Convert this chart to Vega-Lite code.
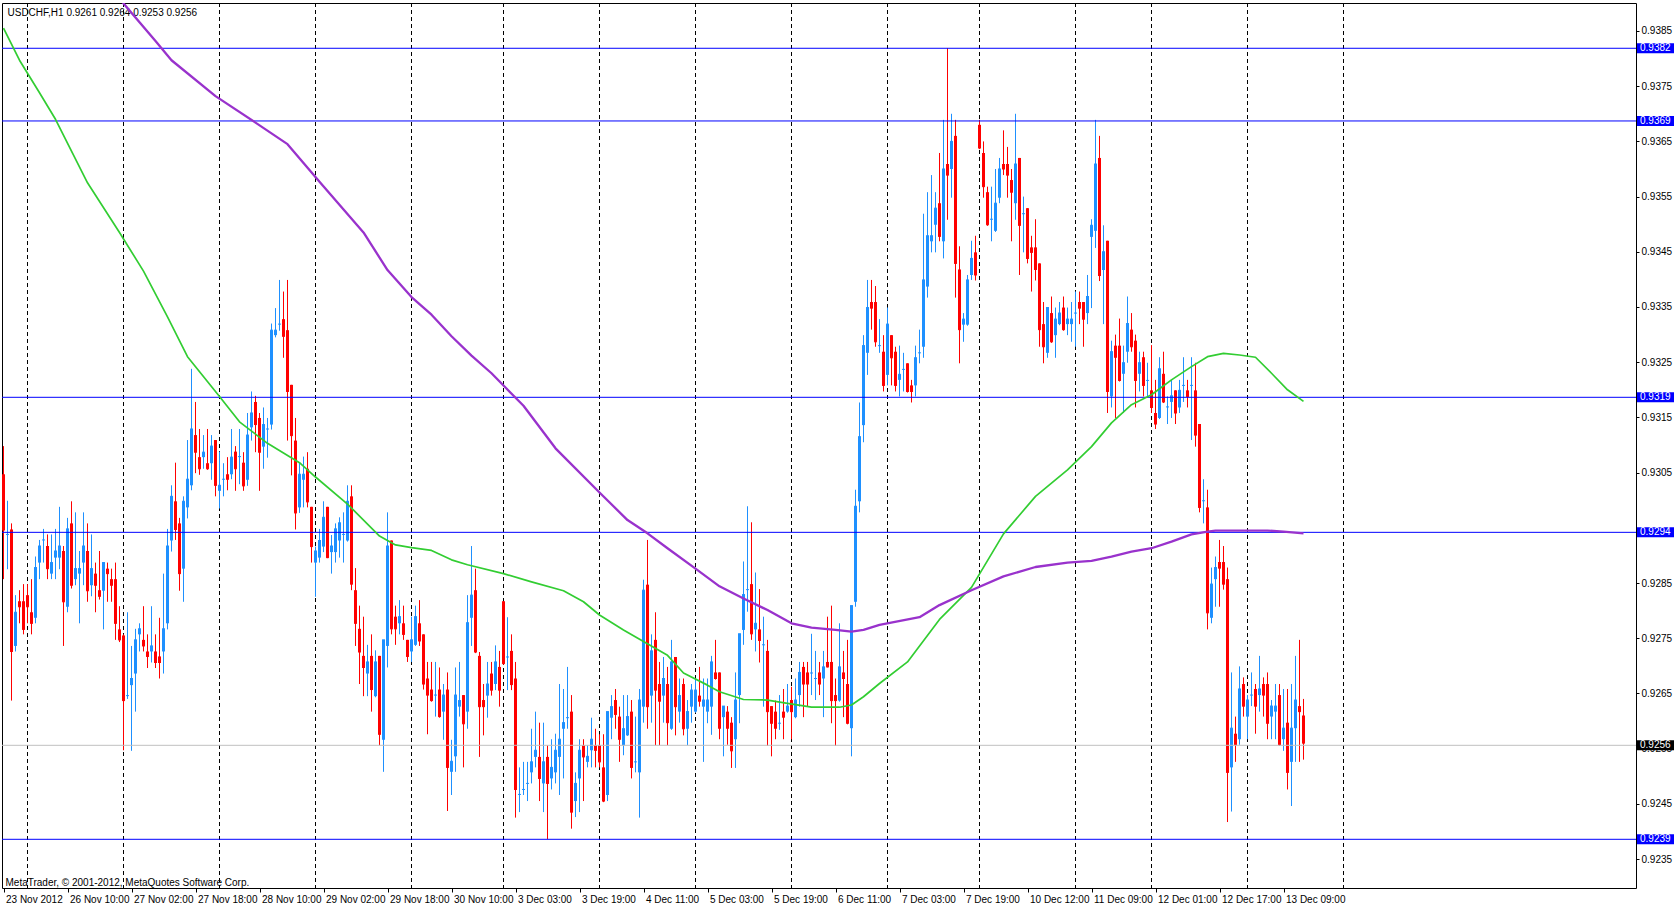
{
  "$schema": "https://vega.github.io/schema/vega-lite/v6.json",
  "width": 1634,
  "height": 885,
  "autosize": {"type": "none"},
  "padding": {"left": 2, "top": 3, "right": 38, "bottom": 18},
  "background": "#ffffff",
  "config": {
    "view": {"stroke": "#000000", "strokeWidth": 1},
    "font": "Liberation Sans",
    "axis": {"grid": false, "domain": false, "labelFont": "Liberation Sans", "labelFontSize": 10, "labelColor": "#000000", "tickColor": "#000000", "titleFont": "Liberation Sans", "titleColor": "#000000"}
  },
  "datasets": {
    "days": [{"i":6},{"i":30},{"i":54},{"i":78},{"i":102},{"i":125},{"i":149},{"i":173},{"i":197},{"i":221},{"i":244},{"i":268},{"i":287},{"i":311},{"i":335}],
    "levels": [{"p":0.938187,"k":"level"},{"p":0.93687,"k":"level"},{"p":0.931864,"k":"level"},{"p":0.929418,"k":"level"},{"p":0.923857,"k":"level"},{"p":0.92556,"k":"bid"}],
    "ma": [
      {"i":0,"m":"fast","p":0.93855},{"i":4,"m":"fast","p":0.93797},{"i":9,"m":"fast","p":0.93738},{"i":13,"m":"fast","p":0.9369},{"i":21,"m":"fast","p":0.93575},{"i":29,"m":"fast","p":0.93485},{"i":35,"m":"fast","p":0.93415},{"i":41,"m":"fast","p":0.93332},{"i":46,"m":"fast","p":0.9326},{"i":54,"m":"fast","p":0.93188},{"i":59,"m":"fast","p":0.93142},{"i":66,"m":"fast","p":0.93103},{"i":74,"m":"fast","p":0.93068},{"i":78,"m":"fast","p":0.93042},{"i":86,"m":"fast","p":0.92993},{"i":94,"m":"fast","p":0.92935},{"i":98,"m":"fast","p":0.92919},{"i":102,"m":"fast","p":0.92914},{"i":107,"m":"fast","p":0.92909},{"i":112,"m":"fast","p":0.92892},{"i":116,"m":"fast","p":0.92883},{"i":125,"m":"fast","p":0.92867},{"i":132,"m":"fast","p":0.92852},{"i":140,"m":"fast","p":0.92836},{"i":145,"m":"fast","p":0.92816},{"i":149,"m":"fast","p":0.92792},{"i":155,"m":"fast","p":0.92765},{"i":160,"m":"fast","p":0.92744},{"i":166,"m":"fast","p":0.92719},{"i":170,"m":"fast","p":0.92687},{"i":176,"m":"fast","p":0.92665},{"i":179,"m":"fast","p":0.92653},{"i":185,"m":"fast","p":0.92639},{"i":191,"m":"fast","p":0.92638},{"i":196,"m":"fast","p":0.92632},{"i":202,"m":"fast","p":0.92625},{"i":209,"m":"fast","p":0.92625},{"i":212,"m":"fast","p":0.92629},{"i":215,"m":"fast","p":0.92644},{"i":219,"m":"fast","p":0.92668},{"i":226,"m":"fast","p":0.92707},{"i":234,"m":"fast","p":0.92784},{"i":242,"m":"fast","p":0.92842},{"i":250,"m":"fast","p":0.92939},{"i":258,"m":"fast","p":0.93007},{"i":266,"m":"fast","p":0.93055},{"i":272,"m":"fast","p":0.93097},{"i":277,"m":"fast","p":0.9314},{"i":282,"m":"fast","p":0.93173},{"i":287,"m":"fast","p":0.93191},{"i":292,"m":"fast","p":0.93218},{"i":297,"m":"fast","p":0.93242},{"i":301,"m":"fast","p":0.9326},{"i":305,"m":"fast","p":0.93266},{"i":309,"m":"fast","p":0.93263},{"i":313,"m":"fast","p":0.93259},{"i":317,"m":"fast","p":0.9323},{"i":321,"m":"fast","p":0.932},{"i":325,"m":"fast","p":0.93179},
      {"i":27,"m":"slow","p":0.93927},{"i":30,"m":"slow","p":0.939},{"i":38,"m":"slow","p":0.93832},{"i":42,"m":"slow","p":0.93797},{"i":53,"m":"slow","p":0.93732},{"i":63,"m":"slow","p":0.93684},{"i":71,"m":"slow","p":0.93645},{"i":79,"m":"slow","p":0.93577},{"i":90,"m":"slow","p":0.93485},{"i":96,"m":"slow","p":0.93417},{"i":102,"m":"slow","p":0.93368},{"i":107,"m":"slow","p":0.93336},{"i":112,"m":"slow","p":0.93297},{"i":117,"m":"slow","p":0.93262},{"i":122,"m":"slow","p":0.9323},{"i":130,"m":"slow","p":0.93171},{"i":138,"m":"slow","p":0.93094},{"i":149,"m":"slow","p":0.93014},{"i":156,"m":"slow","p":0.92964},{"i":161,"m":"slow","p":0.9294},{"i":166,"m":"slow","p":0.92913},{"i":173,"m":"slow","p":0.92876},{"i":179,"m":"slow","p":0.92844},{"i":185,"m":"slow","p":0.92822},{"i":191,"m":"slow","p":0.92801},{"i":197,"m":"slow","p":0.92777},{"i":202,"m":"slow","p":0.92769},{"i":208,"m":"slow","p":0.92765},{"i":212,"m":"slow","p":0.92762},{"i":215,"m":"slow","p":0.92765},{"i":219,"m":"slow","p":0.92774},{"i":229,"m":"slow","p":0.92788},{"i":234,"m":"slow","p":0.9281},{"i":242,"m":"slow","p":0.92837},{"i":250,"m":"slow","p":0.92862},{"i":258,"m":"slow","p":0.92879},{"i":266,"m":"slow","p":0.92887},{"i":272,"m":"slow","p":0.9289},{"i":277,"m":"slow","p":0.92898},{"i":282,"m":"slow","p":0.92907},{"i":287,"m":"slow","p":0.92913},{"i":292,"m":"slow","p":0.92925},{"i":297,"m":"slow","p":0.92938},{"i":301,"m":"slow","p":0.92943},{"i":303,"m":"slow","p":0.92945},{"i":311,"m":"slow","p":0.92945},{"i":316,"m":"slow","p":0.92945},{"i":320,"m":"slow","p":0.92943},{"i":325,"m":"slow","p":0.9294}
    ],
    "bars": [
      {"i":0,"o":0.93047,"h":0.93098,"l":0.92857,"c":0.92946},
      {"i":1,"o":0.92938,"h":0.92999,"l":0.92875,"c":0.92938},
      {"i":2,"o":0.92947,"h":0.92958,"l":0.92637,"c":0.92726},
      {"i":3,"o":0.92736,"h":0.92828,"l":0.92726,"c":0.92797},
      {"i":4,"o":0.92817,"h":0.92837,"l":0.92777,"c":0.92807},
      {"i":5,"o":0.92817,"h":0.92848,"l":0.92757,"c":0.92766},
      {"i":6,"o":0.92828,"h":0.92848,"l":0.92777,"c":0.92807},
      {"i":7,"o":0.92797,"h":0.92857,"l":0.92757,"c":0.92777},
      {"i":8,"o":0.92787,"h":0.92898,"l":0.92777,"c":0.92878},
      {"i":9,"o":0.92887,"h":0.92928,"l":0.92857,"c":0.92917},
      {"i":10,"o":0.92928,"h":0.92948,"l":0.92887,"c":0.92928},
      {"i":11,"o":0.92917,"h":0.92938,"l":0.92857,"c":0.92876},
      {"i":12,"o":0.92867,"h":0.92938,"l":0.92857,"c":0.92887},
      {"i":13,"o":0.92896,"h":0.92948,"l":0.92857,"c":0.92908},
      {"i":14,"o":0.92896,"h":0.92988,"l":0.92875,"c":0.92917},
      {"i":15,"o":0.92908,"h":0.92917,"l":0.92736,"c":0.92816},
      {"i":16,"o":0.92807,"h":0.92968,"l":0.92797,"c":0.92948},
      {"i":17,"o":0.92958,"h":0.92998,"l":0.9284,"c":0.92846},
      {"i":18,"o":0.92857,"h":0.92978,"l":0.92846,"c":0.92876},
      {"i":19,"o":0.92867,"h":0.92908,"l":0.92777,"c":0.92876},
      {"i":20,"o":0.92887,"h":0.92978,"l":0.92846,"c":0.92917},
      {"i":21,"o":0.92908,"h":0.92958,"l":0.92816,"c":0.92836},
      {"i":22,"o":0.92846,"h":0.92938,"l":0.92826,"c":0.92876},
      {"i":23,"o":0.92867,"h":0.92887,"l":0.92797,"c":0.92846},
      {"i":24,"o":0.92837,"h":0.92908,"l":0.9282,"c":0.92826},
      {"i":25,"o":0.92836,"h":0.92887,"l":0.92766,"c":0.92887},
      {"i":26,"o":0.92876,"h":0.92887,"l":0.92816,"c":0.92867},
      {"i":27,"o":0.92857,"h":0.92876,"l":0.92816,"c":0.92846},
      {"i":28,"o":0.92857,"h":0.92887,"l":0.92747,"c":0.92777},
      {"i":29,"o":0.92766,"h":0.92808,"l":0.92743,"c":0.92747},
      {"i":30,"o":0.92755,"h":0.92757,"l":0.92547,"c":0.92637},
      {"i":31,"o":0.92646,"h":0.92797,"l":0.9264,"c":0.92646},
      {"i":32,"o":0.92665,"h":0.92736,"l":0.92546,"c":0.92677},
      {"i":33,"o":0.92686,"h":0.92767,"l":0.92617,"c":0.92747},
      {"i":34,"o":0.92757,"h":0.92777,"l":0.92726,"c":0.92767},
      {"i":35,"o":0.92747,"h":0.92808,"l":0.92726,"c":0.92736},
      {"i":36,"o":0.92726,"h":0.92757,"l":0.92696,"c":0.92717},
      {"i":37,"o":0.92726,"h":0.92808,"l":0.92706,"c":0.92736},
      {"i":38,"o":0.92726,"h":0.92757,"l":0.92696,"c":0.92706},
      {"i":39,"o":0.92717,"h":0.92787,"l":0.92677,"c":0.92706},
      {"i":40,"o":0.92726,"h":0.92867,"l":0.92686,"c":0.92767},
      {"i":41,"o":0.92777,"h":0.92948,"l":0.92766,"c":0.92917},
      {"i":42,"o":0.92927,"h":0.93027,"l":0.92907,"c":0.93007},
      {"i":43,"o":0.92998,"h":0.93068,"l":0.92928,"c":0.92947},
      {"i":44,"o":0.92958,"h":0.92968,"l":0.92836,"c":0.92867},
      {"i":45,"o":0.92876,"h":0.93007,"l":0.92816,"c":0.92998},
      {"i":46,"o":0.92987,"h":0.93109,"l":0.92967,"c":0.93038},
      {"i":47,"o":0.93027,"h":0.93238,"l":0.93018,"c":0.93129},
      {"i":48,"o":0.93118,"h":0.93178,"l":0.93049,"c":0.93087},
      {"i":49,"o":0.93078,"h":0.93129,"l":0.93046,"c":0.93057},
      {"i":50,"o":0.93078,"h":0.93118,"l":0.93057,"c":0.93087},
      {"i":51,"o":0.93067,"h":0.93129,"l":0.93055,"c":0.93057},
      {"i":52,"o":0.93067,"h":0.93118,"l":0.93037,"c":0.93098},
      {"i":53,"o":0.93109,"h":0.93109,"l":0.93007,"c":0.93027},
      {"i":54,"o":0.93017,"h":0.93088,"l":0.92985,"c":0.93027},
      {"i":55,"o":0.93038,"h":0.93067,"l":0.93007,"c":0.93038},
      {"i":56,"o":0.93047,"h":0.93078,"l":0.93018,"c":0.93038},
      {"i":57,"o":0.93047,"h":0.93129,"l":0.93038,"c":0.93078},
      {"i":58,"o":0.93088,"h":0.93098,"l":0.93017,"c":0.93057},
      {"i":59,"o":0.93079,"h":0.93129,"l":0.93029,"c":0.93079},
      {"i":60,"o":0.93068,"h":0.93087,"l":0.93017,"c":0.93026},
      {"i":61,"o":0.93037,"h":0.93158,"l":0.93026,"c":0.93118},
      {"i":62,"o":0.93132,"h":0.93197,"l":0.93108,"c":0.93158},
      {"i":63,"o":0.93178,"h":0.93189,"l":0.93087,"c":0.93137},
      {"i":64,"o":0.93149,"h":0.93158,"l":0.93017,"c":0.93087},
      {"i":65,"o":0.93097,"h":0.93168,"l":0.93057,"c":0.93137},
      {"i":66,"o":0.93129,"h":0.93149,"l":0.93077,"c":0.93129},
      {"i":67,"o":0.93137,"h":0.9332,"l":0.93128,"c":0.93308},
      {"i":68,"o":0.93299,"h":0.93348,"l":0.93295,"c":0.93308},
      {"i":69,"o":0.93319,"h":0.93399,"l":0.93307,"c":0.93319},
      {"i":70,"o":0.93328,"h":0.93378,"l":0.93258,"c":0.93297},
      {"i":71,"o":0.93308,"h":0.93399,"l":0.93108,"c":0.93197},
      {"i":72,"o":0.93209,"h":0.93209,"l":0.93045,"c":0.93117},
      {"i":73,"o":0.93108,"h":0.93149,"l":0.92947,"c":0.92977},
      {"i":74,"o":0.92987,"h":0.93068,"l":0.92977,"c":0.93047},
      {"i":75,"o":0.93037,"h":0.93079,"l":0.92987,"c":0.93047},
      {"i":76,"o":0.93057,"h":0.93087,"l":0.92987,"c":0.92997},
      {"i":77,"o":0.92988,"h":0.92988,"l":0.92887,"c":0.92916},
      {"i":78,"o":0.92887,"h":0.92916,"l":0.92825,"c":0.92908},
      {"i":79,"o":0.92896,"h":0.92948,"l":0.92887,"c":0.92927},
      {"i":80,"o":0.92916,"h":0.92998,"l":0.92906,"c":0.92969},
      {"i":81,"o":0.92988,"h":0.92988,"l":0.92895,"c":0.92896},
      {"i":82,"o":0.92906,"h":0.92937,"l":0.92867,"c":0.92917},
      {"i":83,"o":0.92906,"h":0.92958,"l":0.92887,"c":0.92948},
      {"i":84,"o":0.92927,"h":0.92969,"l":0.92896,"c":0.92959},
      {"i":85,"o":0.92938,"h":0.92978,"l":0.92887,"c":0.92938},
      {"i":86,"o":0.92927,"h":0.93027,"l":0.92925,"c":0.92998},
      {"i":87,"o":0.93007,"h":0.93027,"l":0.92837,"c":0.92848},
      {"i":88,"o":0.92837,"h":0.92877,"l":0.92736,"c":0.92777},
      {"i":89,"o":0.92767,"h":0.92809,"l":0.92667,"c":0.92725},
      {"i":90,"o":0.92718,"h":0.92789,"l":0.92645,"c":0.92697},
      {"i":91,"o":0.92686,"h":0.92738,"l":0.92645,"c":0.92707},
      {"i":92,"o":0.92718,"h":0.92757,"l":0.92617,"c":0.92657},
      {"i":93,"o":0.92645,"h":0.92728,"l":0.92643,"c":0.92707},
      {"i":94,"o":0.92718,"h":0.92718,"l":0.92556,"c":0.92576},
      {"i":95,"o":0.92566,"h":0.92747,"l":0.92508,"c":0.92747},
      {"i":96,"o":0.92736,"h":0.92978,"l":0.92697,"c":0.92917},
      {"i":97,"o":0.92927,"h":0.92927,"l":0.92757,"c":0.92767},
      {"i":98,"o":0.92789,"h":0.92809,"l":0.92738,"c":0.92767},
      {"i":99,"o":0.92777,"h":0.92819,"l":0.92757,"c":0.92789},
      {"i":100,"o":0.92777,"h":0.92809,"l":0.92747,"c":0.92757},
      {"i":101,"o":0.92747,"h":0.92747,"l":0.92707,"c":0.92717},
      {"i":102,"o":0.92726,"h":0.92789,"l":0.92707,"c":0.92747},
      {"i":103,"o":0.92738,"h":0.92809,"l":0.92736,"c":0.92789},
      {"i":104,"o":0.92777,"h":0.92819,"l":0.92736,"c":0.92745},
      {"i":105,"o":0.92757,"h":0.92757,"l":0.92657,"c":0.92667},
      {"i":106,"o":0.92677,"h":0.92707,"l":0.92576,"c":0.92647},
      {"i":107,"o":0.92657,"h":0.92707,"l":0.92635,"c":0.92637},
      {"i":108,"o":0.92647,"h":0.92707,"l":0.92608,"c":0.92647},
      {"i":109,"o":0.92657,"h":0.92697,"l":0.92606,"c":0.92608},
      {"i":110,"o":0.92617,"h":0.92667,"l":0.92566,"c":0.92647},
      {"i":111,"o":0.92657,"h":0.92688,"l":0.92437,"c":0.92516},
      {"i":112,"o":0.92508,"h":0.92566,"l":0.92466,"c":0.92527},
      {"i":113,"o":0.92536,"h":0.92697,"l":0.92508,"c":0.92647},
      {"i":114,"o":0.92626,"h":0.92707,"l":0.92608,"c":0.92637},
      {"i":115,"o":0.92647,"h":0.92647,"l":0.92516,"c":0.92595},
      {"i":116,"o":0.92617,"h":0.92828,"l":0.92586,"c":0.92778},
      {"i":117,"o":0.92787,"h":0.92917,"l":0.92736,"c":0.92828},
      {"i":118,"o":0.92837,"h":0.92876,"l":0.92723,"c":0.92725},
      {"i":119,"o":0.92718,"h":0.92725,"l":0.92535,"c":0.92626},
      {"i":120,"o":0.92638,"h":0.92667,"l":0.92574,"c":0.92626},
      {"i":121,"o":0.92646,"h":0.92707,"l":0.92606,"c":0.92667},
      {"i":122,"o":0.92686,"h":0.92707,"l":0.92646,"c":0.92656},
      {"i":123,"o":0.92667,"h":0.92737,"l":0.92656,"c":0.92707},
      {"i":124,"o":0.92698,"h":0.92727,"l":0.92626,"c":0.92656},
      {"i":125,"o":0.92817,"h":0.92817,"l":0.92702,"c":0.92704},
      {"i":126,"o":0.92716,"h":0.92788,"l":0.92656,"c":0.92716},
      {"i":127,"o":0.92727,"h":0.92757,"l":0.92656,"c":0.92666},
      {"i":128,"o":0.92677,"h":0.92707,"l":0.92425,"c":0.92476},
      {"i":129,"o":0.92467,"h":0.92516,"l":0.92435,"c":0.92467},
      {"i":130,"o":0.92476,"h":0.92526,"l":0.92466,"c":0.92476},
      {"i":131,"o":0.92487,"h":0.92526,"l":0.92455,"c":0.92487},
      {"i":132,"o":0.92507,"h":0.92586,"l":0.92487,"c":0.92526},
      {"i":133,"o":0.92535,"h":0.92617,"l":0.92516,"c":0.92547},
      {"i":134,"o":0.92535,"h":0.92597,"l":0.92455,"c":0.92496},
      {"i":135,"o":0.92487,"h":0.92597,"l":0.92435,"c":0.92526},
      {"i":136,"o":0.92535,"h":0.92556,"l":0.92386,"c":0.92487},
      {"i":137,"o":0.92496,"h":0.92567,"l":0.92476,"c":0.92516},
      {"i":138,"o":0.92507,"h":0.92577,"l":0.92487,"c":0.92547},
      {"i":139,"o":0.92535,"h":0.92667,"l":0.92466,"c":0.92567},
      {"i":140,"o":0.92586,"h":0.92658,"l":0.92496,"c":0.92597},
      {"i":141,"o":0.92606,"h":0.92698,"l":0.92586,"c":0.92606},
      {"i":142,"o":0.92617,"h":0.92647,"l":0.92405,"c":0.92435},
      {"i":143,"o":0.92455,"h":0.92507,"l":0.92426,"c":0.92487},
      {"i":144,"o":0.92496,"h":0.92567,"l":0.92435,"c":0.92547},
      {"i":145,"o":0.92556,"h":0.92567,"l":0.92455,"c":0.92535},
      {"i":146,"o":0.92526,"h":0.92556,"l":0.92516,"c":0.92536},
      {"i":147,"o":0.92547,"h":0.92606,"l":0.92516,"c":0.92567},
      {"i":148,"o":0.92556,"h":0.92586,"l":0.92516,"c":0.92547},
      {"i":149,"o":0.92556,"h":0.92576,"l":0.92516,"c":0.92526},
      {"i":150,"o":0.92516,"h":0.92576,"l":0.92453,"c":0.92455},
      {"i":151,"o":0.92466,"h":0.92617,"l":0.92455,"c":0.92617},
      {"i":152,"o":0.92606,"h":0.92647,"l":0.92567,"c":0.92626},
      {"i":153,"o":0.92638,"h":0.92658,"l":0.92586,"c":0.92612},
      {"i":154,"o":0.92608,"h":0.92626,"l":0.92526,"c":0.92567},
      {"i":155,"o":0.92556,"h":0.92647,"l":0.92538,"c":0.92586},
      {"i":156,"o":0.92574,"h":0.92647,"l":0.92573,"c":0.92608},
      {"i":157,"o":0.92617,"h":0.92638,"l":0.92496,"c":0.92516},
      {"i":158,"o":0.92526,"h":0.92608,"l":0.92507,"c":0.92526},
      {"i":159,"o":0.92507,"h":0.92658,"l":0.92425,"c":0.92638},
      {"i":160,"o":0.92626,"h":0.92856,"l":0.92597,"c":0.92837},
      {"i":161,"o":0.92847,"h":0.92928,"l":0.92586,"c":0.92626},
      {"i":162,"o":0.92646,"h":0.92757,"l":0.92597,"c":0.92727},
      {"i":163,"o":0.92747,"h":0.92797,"l":0.92556,"c":0.92656},
      {"i":164,"o":0.92667,"h":0.92707,"l":0.92556,"c":0.92636},
      {"i":165,"o":0.92646,"h":0.92716,"l":0.92597,"c":0.92677},
      {"i":166,"o":0.92667,"h":0.92698,"l":0.92556,"c":0.92597},
      {"i":167,"o":0.92586,"h":0.92747,"l":0.92584,"c":0.92707},
      {"i":168,"o":0.92716,"h":0.92716,"l":0.92574,"c":0.92626},
      {"i":169,"o":0.92617,"h":0.92677,"l":0.92597,"c":0.92646},
      {"i":170,"o":0.92667,"h":0.92677,"l":0.92574,"c":0.92586},
      {"i":171,"o":0.92586,"h":0.92638,"l":0.92556,"c":0.92617},
      {"i":172,"o":0.92626,"h":0.92667,"l":0.92597,"c":0.92656},
      {"i":173,"o":0.92617,"h":0.92677,"l":0.92615,"c":0.92656},
      {"i":174,"o":0.92646,"h":0.92698,"l":0.92626,"c":0.92636},
      {"i":175,"o":0.92626,"h":0.92677,"l":0.92526,"c":0.92638},
      {"i":176,"o":0.92617,"h":0.92677,"l":0.92596,"c":0.92638},
      {"i":177,"o":0.92626,"h":0.92718,"l":0.92575,"c":0.92707},
      {"i":178,"o":0.92688,"h":0.92747,"l":0.92675,"c":0.92677},
      {"i":179,"o":0.92688,"h":0.92688,"l":0.92567,"c":0.92587},
      {"i":180,"o":0.92607,"h":0.92627,"l":0.92536,"c":0.92627},
      {"i":181,"o":0.92617,"h":0.92627,"l":0.92557,"c":0.92587},
      {"i":182,"o":0.92597,"h":0.92607,"l":0.92515,"c":0.92546},
      {"i":183,"o":0.92567,"h":0.92688,"l":0.92515,"c":0.92638},
      {"i":184,"o":0.92647,"h":0.92758,"l":0.92596,"c":0.92758},
      {"i":185,"o":0.92765,"h":0.92889,"l":0.92738,"c":0.92829},
      {"i":186,"o":0.92838,"h":0.92989,"l":0.92798,"c":0.92838},
      {"i":187,"o":0.92848,"h":0.9296,"l":0.92747,"c":0.92758},
      {"i":188,"o":0.92766,"h":0.92869,"l":0.92726,"c":0.92777},
      {"i":189,"o":0.92766,"h":0.92839,"l":0.92706,"c":0.92746},
      {"i":190,"o":0.92738,"h":0.92789,"l":0.92626,"c":0.92738},
      {"i":191,"o":0.92727,"h":0.92747,"l":0.92555,"c":0.92617},
      {"i":192,"o":0.92627,"h":0.92627,"l":0.92536,"c":0.92596},
      {"i":193,"o":0.92617,"h":0.92637,"l":0.92567,"c":0.92587},
      {"i":194,"o":0.92596,"h":0.92647,"l":0.92584,"c":0.92596},
      {"i":195,"o":0.92617,"h":0.92658,"l":0.92567,"c":0.92607},
      {"i":196,"o":0.92617,"h":0.92667,"l":0.92615,"c":0.92627},
      {"i":197,"o":0.92638,"h":0.92662,"l":0.92567,"c":0.92617},
      {"i":198,"o":0.92607,"h":0.92677,"l":0.92605,"c":0.92638},
      {"i":199,"o":0.92647,"h":0.92707,"l":0.92626,"c":0.92688},
      {"i":200,"o":0.92698,"h":0.92707,"l":0.92607,"c":0.92667},
      {"i":201,"o":0.92688,"h":0.92707,"l":0.92626,"c":0.92667},
      {"i":202,"o":0.92687,"h":0.92758,"l":0.92647,"c":0.92687},
      {"i":203,"o":0.92677,"h":0.92727,"l":0.92638,"c":0.92677},
      {"i":204,"o":0.92688,"h":0.92707,"l":0.92647,"c":0.92667},
      {"i":205,"o":0.92677,"h":0.92727,"l":0.92607,"c":0.92698},
      {"i":206,"o":0.92707,"h":0.92789,"l":0.92697,"c":0.92698},
      {"i":207,"o":0.92707,"h":0.92809,"l":0.92596,"c":0.92637},
      {"i":208,"o":0.92647,"h":0.92677,"l":0.92555,"c":0.92637},
      {"i":209,"o":0.92637,"h":0.92777,"l":0.92635,"c":0.92698},
      {"i":210,"o":0.92688,"h":0.92727,"l":0.92607,"c":0.92677},
      {"i":211,"o":0.92667,"h":0.92747,"l":0.92594,"c":0.92596},
      {"i":212,"o":0.92587,"h":0.92809,"l":0.92536,"c":0.92809},
      {"i":213,"o":0.92816,"h":0.93019,"l":0.92807,"c":0.92989},
      {"i":214,"o":0.92998,"h":0.93177,"l":0.92978,"c":0.93115},
      {"i":215,"o":0.93136,"h":0.93299,"l":0.93105,"c":0.9328},
      {"i":216,"o":0.93267,"h":0.93399,"l":0.93227,"c":0.93349},
      {"i":217,"o":0.93359,"h":0.93399,"l":0.93309,"c":0.93348},
      {"i":218,"o":0.93359,"h":0.93388,"l":0.93278,"c":0.93287},
      {"i":219,"o":0.9328,"h":0.93328,"l":0.93267,"c":0.9328},
      {"i":220,"o":0.93269,"h":0.93299,"l":0.93197,"c":0.93208},
      {"i":221,"o":0.93227,"h":0.93349,"l":0.93208,"c":0.93319},
      {"i":222,"o":0.93299,"h":0.93299,"l":0.93208,"c":0.93258},
      {"i":223,"o":0.93269,"h":0.93278,"l":0.93197,"c":0.93208},
      {"i":224,"o":0.93218,"h":0.9328,"l":0.93188,"c":0.93228},
      {"i":225,"o":0.93237,"h":0.93267,"l":0.93197,"c":0.93237},
      {"i":226,"o":0.93248,"h":0.93248,"l":0.93195,"c":0.93197},
      {"i":227,"o":0.93208,"h":0.93218,"l":0.93177,"c":0.93197},
      {"i":228,"o":0.93208,"h":0.9328,"l":0.93188,"c":0.93258},
      {"i":229,"o":0.93267,"h":0.93309,"l":0.93248,"c":0.93267},
      {"i":230,"o":0.93278,"h":0.93519,"l":0.93258,"c":0.93399},
      {"i":231,"o":0.93387,"h":0.93558,"l":0.93367,"c":0.93479},
      {"i":232,"o":0.93469,"h":0.93589,"l":0.93449,"c":0.93479},
      {"i":233,"o":0.93499,"h":0.93558,"l":0.93449,"c":0.93529},
      {"i":234,"o":0.93538,"h":0.93629,"l":0.93469,"c":0.93478},
      {"i":235,"o":0.93469,"h":0.93689,"l":0.93438,"c":0.936},
      {"i":236,"o":0.93609,"h":0.93819,"l":0.93508,"c":0.93589},
      {"i":237,"o":0.936,"h":0.937,"l":0.93548,"c":0.9365},
      {"i":238,"o":0.9366,"h":0.93689,"l":0.93367,"c":0.93429},
      {"i":239,"o":0.93418,"h":0.9346,"l":0.93248,"c":0.93309},
      {"i":240,"o":0.93318,"h":0.93339,"l":0.93287,"c":0.93328},
      {"i":241,"o":0.93318,"h":0.93408,"l":0.93316,"c":0.93399},
      {"i":242,"o":0.93408,"h":0.9347,"l":0.93399,"c":0.93438},
      {"i":243,"o":0.93449,"h":0.93479,"l":0.93398,"c":0.93408},
      {"i":244,"o":0.9368,"h":0.93689,"l":0.93636,"c":0.93638},
      {"i":245,"o":0.93629,"h":0.9365,"l":0.93548,"c":0.93568},
      {"i":246,"o":0.93558,"h":0.93568,"l":0.93497,"c":0.93499},
      {"i":247,"o":0.93509,"h":0.93568,"l":0.93469,"c":0.93509},
      {"i":248,"o":0.93488,"h":0.936,"l":0.93486,"c":0.93538},
      {"i":249,"o":0.93548,"h":0.9362,"l":0.93538,"c":0.936},
      {"i":250,"o":0.93609,"h":0.9367,"l":0.93589,"c":0.936},
      {"i":251,"o":0.93609,"h":0.9364,"l":0.93548,"c":0.93589},
      {"i":252,"o":0.9358,"h":0.936,"l":0.93469,"c":0.93558},
      {"i":253,"o":0.93538,"h":0.937,"l":0.93508,"c":0.93609},
      {"i":254,"o":0.9362,"h":0.9362,"l":0.93408,"c":0.93498},
      {"i":255,"o":0.93519,"h":0.9355,"l":0.93449,"c":0.93519},
      {"i":256,"o":0.93529,"h":0.93529,"l":0.93429,"c":0.93438},
      {"i":257,"o":0.93458,"h":0.93479,"l":0.93378,"c":0.93449},
      {"i":258,"o":0.93458,"h":0.93509,"l":0.93398,"c":0.93418},
      {"i":259,"o":0.93429,"h":0.93429,"l":0.93278,"c":0.93309},
      {"i":260,"o":0.93319,"h":0.93359,"l":0.93248,"c":0.93278},
      {"i":261,"o":0.93267,"h":0.93349,"l":0.93258,"c":0.93349},
      {"i":262,"o":0.93339,"h":0.93369,"l":0.93285,"c":0.93287},
      {"i":263,"o":0.93299,"h":0.93349,"l":0.93258,"c":0.93328},
      {"i":264,"o":0.93319,"h":0.93359,"l":0.93317,"c":0.93339},
      {"i":265,"o":0.93349,"h":0.93369,"l":0.93307,"c":0.93309},
      {"i":266,"o":0.93319,"h":0.93349,"l":0.93299,"c":0.93328},
      {"i":267,"o":0.93319,"h":0.93359,"l":0.93287,"c":0.93328},
      {"i":268,"o":0.93339,"h":0.93378,"l":0.93278,"c":0.93339},
      {"i":269,"o":0.93359,"h":0.93378,"l":0.93319,"c":0.93348},
      {"i":270,"o":0.93359,"h":0.93359,"l":0.93278,"c":0.93328},
      {"i":271,"o":0.93339,"h":0.93408,"l":0.93319,"c":0.93369},
      {"i":272,"o":0.93477,"h":0.93509,"l":0.93348,"c":0.93498},
      {"i":273,"o":0.93488,"h":0.93689,"l":0.93457,"c":0.93609},
      {"i":274,"o":0.9362,"h":0.9366,"l":0.93397,"c":0.93407},
      {"i":275,"o":0.93417,"h":0.93498,"l":0.93319,"c":0.9345},
      {"i":276,"o":0.9347,"h":0.9347,"l":0.93158,"c":0.93197},
      {"i":277,"o":0.93188,"h":0.93289,"l":0.93168,"c":0.93269},
      {"i":278,"o":0.9328,"h":0.933,"l":0.93149,"c":0.93259},
      {"i":279,"o":0.9328,"h":0.93329,"l":0.93215,"c":0.93217},
      {"i":280,"o":0.93229,"h":0.9328,"l":0.93158,"c":0.93249},
      {"i":281,"o":0.93269,"h":0.93369,"l":0.93249,"c":0.9332},
      {"i":282,"o":0.93309,"h":0.93339,"l":0.93269,"c":0.93278},
      {"i":283,"o":0.93289,"h":0.933,"l":0.93168,"c":0.93217},
      {"i":284,"o":0.93229,"h":0.93269,"l":0.93197,"c":0.93249},
      {"i":285,"o":0.93259,"h":0.93269,"l":0.93188,"c":0.93208},
      {"i":286,"o":0.93217,"h":0.93249,"l":0.93188,"c":0.93217},
      {"i":287,"o":0.93199,"h":0.93281,"l":0.93158,"c":0.93168},
      {"i":288,"o":0.93158,"h":0.93218,"l":0.93129,"c":0.93138},
      {"i":289,"o":0.93149,"h":0.93259,"l":0.93147,"c":0.93238},
      {"i":290,"o":0.93229,"h":0.93269,"l":0.93176,"c":0.93178},
      {"i":291,"o":0.93169,"h":0.93188,"l":0.93138,"c":0.93169},
      {"i":292,"o":0.93178,"h":0.93218,"l":0.93149,"c":0.93189},
      {"i":293,"o":0.93199,"h":0.93199,"l":0.93138,"c":0.93158},
      {"i":294,"o":0.93168,"h":0.93218,"l":0.93158,"c":0.93199},
      {"i":295,"o":0.93208,"h":0.93259,"l":0.93178,"c":0.93208},
      {"i":296,"o":0.93199,"h":0.93218,"l":0.93168,"c":0.93188},
      {"i":297,"o":0.93208,"h":0.93259,"l":0.93109,"c":0.93208},
      {"i":298,"o":0.93199,"h":0.93249,"l":0.93097,"c":0.93118},
      {"i":299,"o":0.93138,"h":0.93138,"l":0.92978,"c":0.92987},
      {"i":300,"o":0.92999,"h":0.93038,"l":0.92958,"c":0.92999},
      {"i":301,"o":0.92987,"h":0.93019,"l":0.92766,"c":0.92796},
      {"i":302,"o":0.92787,"h":0.92878,"l":0.92777,"c":0.92848},
      {"i":303,"o":0.92857,"h":0.92898,"l":0.92807,"c":0.92878},
      {"i":304,"o":0.92888,"h":0.92928,"l":0.92807,"c":0.92877},
      {"i":305,"o":0.92888,"h":0.92917,"l":0.92838,"c":0.92848},
      {"i":306,"o":0.92857,"h":0.92878,"l":0.92417,"c":0.92507},
      {"i":307,"o":0.92516,"h":0.92688,"l":0.92436,"c":0.92587},
      {"i":308,"o":0.92577,"h":0.92608,"l":0.92526,"c":0.92557},
      {"i":309,"o":0.92567,"h":0.92699,"l":0.92557,"c":0.92658},
      {"i":310,"o":0.92667,"h":0.92679,"l":0.92608,"c":0.92627},
      {"i":311,"o":0.92608,"h":0.92647,"l":0.92567,"c":0.92638},
      {"i":312,"o":0.92647,"h":0.92688,"l":0.92627,"c":0.92647},
      {"i":313,"o":0.92658,"h":0.92667,"l":0.92577,"c":0.92627},
      {"i":314,"o":0.92647,"h":0.92718,"l":0.92617,"c":0.92658},
      {"i":315,"o":0.92667,"h":0.92679,"l":0.92608,"c":0.92647},
      {"i":316,"o":0.92667,"h":0.92688,"l":0.92567,"c":0.92596},
      {"i":317,"o":0.92608,"h":0.92638,"l":0.92567,"c":0.92627},
      {"i":318,"o":0.92617,"h":0.92667,"l":0.92567,"c":0.92627},
      {"i":319,"o":0.92647,"h":0.92667,"l":0.92555,"c":0.92557},
      {"i":320,"o":0.92567,"h":0.92658,"l":0.92546,"c":0.92587},
      {"i":321,"o":0.92597,"h":0.92658,"l":0.92476,"c":0.92507},
      {"i":322,"o":0.92526,"h":0.92667,"l":0.92446,"c":0.92587},
      {"i":323,"o":0.92587,"h":0.92718,"l":0.92526,"c":0.92638},
      {"i":324,"o":0.92627,"h":0.92747,"l":0.92526,"c":0.92617},
      {"i":325,"o":0.9261,"h":0.9264,"l":0.9253,"c":0.9256}
    ]
  },
  "layer": [
    {
      "data": {"name": "days"},
      "mark": {"type": "rule", "color": "#000000", "strokeWidth": 1, "strokeDash": [4, 3]},
      "encoding": {
        "x": {
          "field": "i", "type": "quantitative",
          "scale": {"domain": [-0.375, 408.125], "nice": false, "zero": false},
          "axis": {
            "orient": "bottom",
            "values": [0, 16, 32, 48, 64, 80, 96, 112, 128, 144, 160, 176, 192, 208, 224, 240, 256, 272, 288, 304, 320],
            "labelExpr": "['23 Nov 2012','26 Nov 10:00','27 Nov 02:00','27 Nov 18:00','28 Nov 10:00','29 Nov 02:00','29 Nov 18:00','30 Nov 10:00','3 Dec 03:00','3 Dec 19:00','4 Dec 11:00','5 Dec 03:00','5 Dec 19:00','6 Dec 11:00','7 Dec 03:00','7 Dec 19:00','10 Dec 12:00','11 Dec 09:00','12 Dec 01:00','12 Dec 17:00','13 Dec 09:00'][round(datum.value / 16)]",
            "labelAlign": "left",
            "labelBaseline": "top",
            "labelOffset": 2,
            "labelPadding": 2,
            "labelFlush": false,
            "labelOverlap": false,
            "tickSize": 4,
            "title": "MetaTrader, © 2001-2012, MetaQuotes Software Corp.",
            "titleAnchor": "start",
            "titleAlign": "left",
            "titleBaseline": "alphabetic",
            "titleX": 3,
            "titleY": -3,
            "titleFontSize": 10,
            "titleFontWeight": "normal"
          }
        }
      }
    },
    {
      "data": {"name": "bars"},
      "mark": {"type": "rule", "strokeWidth": 1},
      "encoding": {
        "x": {"field": "i", "type": "quantitative", "scale": {"domain": [-0.375, 408.125], "nice": false, "zero": false}},
        "y": {
          "field": "l", "type": "quantitative",
          "scale": {"domain": [0.922975, 0.939007], "nice": false, "zero": false},
          "axis": {
            "orient": "right",
            "values": [0.9235, 0.9245, 0.9255, 0.9265, 0.9275, 0.9285, 0.9305, 0.9315, 0.9325, 0.9335, 0.9345, 0.9355, 0.9365, 0.9375, 0.9385],
            "format": ".4f",
            "tickSize": 3,
            "labelPadding": 2,
            "labelAlign": "left",
            "labelBaseline": "middle",
            "labelFlush": false,
            "labelOverlap": false,
            "zindex": 0,
            "title": "USDCHF,H1  0.9261 0.9264 0.9253 0.9256",
            "titleAngle": 0,
            "titleAnchor": null,
            "titleAlign": "left",
            "titleBaseline": "alphabetic",
            "titleX": -1629,
            "titleY": 12,
            "titleFontSize": 10,
            "titleFontWeight": "normal"
          }
        },
        "y2": {"field": "h"},
        "color": {"condition": {"test": "datum.c >= datum.o", "value": "#1E90FF"}, "value": "#FF0000"}
      }
    },
    {
      "data": {"name": "bars"},
      "mark": {"type": "rule", "strokeWidth": 3},
      "encoding": {
        "x": {"field": "i", "type": "quantitative", "scale": {"domain": [-0.375, 408.125], "nice": false, "zero": false}},
        "y": {"field": "o", "type": "quantitative", "scale": {"domain": [0.922975, 0.939007], "nice": false, "zero": false}},
        "y2": {"field": "c"},
        "color": {"condition": {"test": "datum.c >= datum.o", "value": "#1E90FF"}, "value": "#FF0000"}
      }
    },
    {
      "data": {"name": "bars"},
      "mark": {"type": "tick", "orient": "horizontal", "size": 3, "thickness": 1, "opacity": 1},
      "encoding": {
        "x": {"field": "i", "type": "quantitative", "scale": {"domain": [-0.375, 408.125], "nice": false, "zero": false}},
        "y": {"field": "c", "type": "quantitative", "scale": {"domain": [0.922975, 0.939007], "nice": false, "zero": false}},
        "color": {"condition": {"test": "datum.c >= datum.o", "value": "#1E90FF"}, "value": "#FF0000"}
      }
    },
    {
      "data": {"name": "levels"},
      "mark": {"type": "rule", "strokeWidth": 1},
      "encoding": {
        "y": {"field": "p", "type": "quantitative", "scale": {"domain": [0.922975, 0.939007], "nice": false, "zero": false}},
        "stroke": {"field": "k", "type": "nominal", "scale": {"domain": ["level", "bid"], "range": ["#0000FF", "#C0C0C0"]}, "legend": null}
      }
    },
    {
      "data": {"name": "ma"},
      "mark": {"type": "line", "clip": true, "strokeJoin": "round"},
      "encoding": {
        "x": {"field": "i", "type": "quantitative", "scale": {"domain": [-0.375, 408.125], "nice": false, "zero": false}},
        "y": {"field": "p", "type": "quantitative", "scale": {"domain": [0.922975, 0.939007], "nice": false, "zero": false}},
        "color": {"field": "m", "type": "nominal", "scale": {"domain": ["fast", "slow"], "range": ["#32CD32", "#9932CC"]}, "legend": null},
        "strokeWidth": {"field": "m", "type": "nominal", "scale": {"domain": ["fast", "slow"], "range": [1.7, 2.3]}, "legend": null}
      }
    },
    {
      "data": {"name": "levels"},
      "mark": {"type": "tick", "orient": "horizontal", "size": 37, "thickness": 10, "xOffset": 19.5, "opacity": 1, "clip": false},
      "encoding": {
        "x": {"value": "width"},
        "y": {"field": "p", "type": "quantitative", "scale": {"domain": [0.922975, 0.939007], "nice": false, "zero": false}},
        "fill": {"field": "k", "type": "nominal", "scale": {"domain": ["level", "bid"], "range": ["#0000FF", "#000000"]}, "legend": null}
      }
    },
    {
      "data": {"name": "levels"},
      "mark": {"type": "text", "align": "left", "baseline": "middle", "dx": 4, "color": "#FFFFFF", "fontSize": 10, "font": "Liberation Sans"},
      "encoding": {
        "x": {"value": "width"},
        "y": {"field": "p", "type": "quantitative", "scale": {"domain": [0.922975, 0.939007], "nice": false, "zero": false}},
        "text": {"field": "p", "type": "quantitative", "format": ".4f"}
      }
    }
  ]
}
